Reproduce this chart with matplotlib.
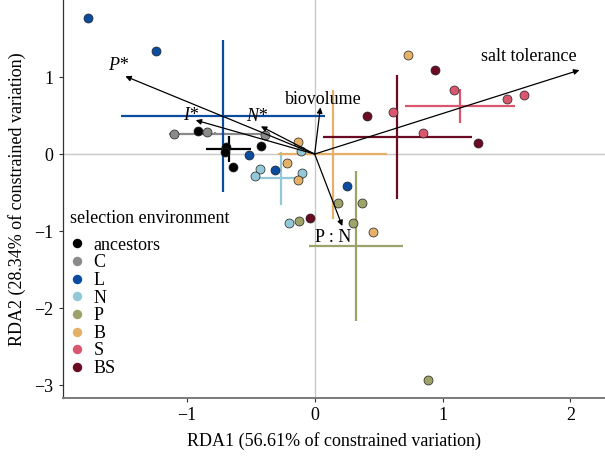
import numpy as np
import matplotlib
matplotlib.use("Agg")
import matplotlib.pyplot as plt
from matplotlib.lines import Line2D

plt.rcParams["font.family"] = ["Liberation Serif", "DejaVu Serif"]
plt.rcParams["font.size"] = 13

# site scores per selection environment (RDA1, RDA2)
groups = ["ancestors", "C", "L", "N", "P", "B", "S", "BS"]
colors = ["#000000", "#8a8a8a", "#0b4c9f", "#93c8d8", "#9da268",
          "#e5b068", "#d9566f", "#6a0b23"]

anc_x = [-0.91, -0.42, -0.69, -0.70, -0.64]
anc_y = [0.30, 0.10, 0.09, 0.03, -0.17]
c_x = [-1.10, -0.84, -0.39]
c_y = [0.26, 0.29, 0.25]
l_x = [-1.77, -1.24, -0.51, -0.31, 0.25]
l_y = [1.76, 1.34, -0.01, -0.21, -0.42]
n_x = [-0.11, -0.43, -0.47, -0.10, -0.20]
n_y = [0.04, -0.20, -0.29, -0.24, -0.89]
p_x = [0.18, 0.37, 0.30, -0.12, 0.89]
p_y = [-0.64, -0.64, -0.89, -0.87, -2.93]
b_x = [-0.13, -0.22, -0.13, 0.73, 0.46]
b_y = [0.16, -0.11, -0.34, 1.28, -1.01]
s_x = [1.09, 0.61, 0.85, 1.50, 1.64]
s_y = [0.83, 0.54, 0.28, 0.72, 0.77]
bs_x = [0.94, 0.41, 1.28, -0.04]
bs_y = [1.09, 0.50, 0.15, -0.83]

xs = [anc_x, c_x, l_x, n_x, p_x, b_x, s_x, bs_x]
ys = [anc_y, c_y, l_y, n_y, p_y, b_y, s_y, bs_y]

# biplot arrows (explanatory variables)
arrow_names = ["P*", "I*", "N*", "biovolume", "salt tolerance", "P : N"]
arrow_x = [-1.48, -0.93, -0.42, 0.045, 2.07, 0.216]
arrow_y = [1.01, 0.44, 0.36, 0.606, 1.09, -0.934]
label_x = [-1.54, -0.97, -0.45, 0.066, 1.672, 0.141]
label_y = [1.154, 0.497, 0.484, 0.713, 1.262, -1.080]
italic = [True, True, True, False, False, False]

fig = plt.figure(figsize=(6.05, 4.58), dpi=100)
ax = fig.add_axes([0.1036, 0.132, 0.8964, 0.868])

ax.axhline(0, color="#c8c8c8", lw=1, zorder=0)
ax.axvline(0, color="#c8c8c8", lw=1, zorder=0)

# mean +/- sd crosshairs
for gx, gy, col in zip(xs, ys, colors):
    gx = np.array(gx); gy = np.array(gy)
    mx, my = gx.mean(), gy.mean()
    sx, sy = gx.std(ddof=1), gy.std(ddof=1)
    ax.plot([mx - sx, mx + sx], [my, my], color=col, lw=1.6, zorder=1,
            solid_capstyle="butt")
    ax.plot([mx, mx], [my - sy, my + sy], color=col, lw=1.6, zorder=1,
            solid_capstyle="butt")

for gx, gy, col in zip(xs, ys, colors):
    ax.scatter(gx, gy, s=42, color=col, edgecolor="#222222", linewidth=0.5,
               zorder=3)

for name, ax_, ay_, lx, ly, it in zip(arrow_names, arrow_x, arrow_y,
                                      label_x, label_y, italic):
    ax.annotate("", xy=(ax_, ay_), xytext=(0, 0),
                arrowprops=dict(arrowstyle="-|>", color="black", lw=0.9,
                                mutation_scale=8, shrinkA=0, shrinkB=0),
                zorder=4)
    ax.text(lx, ly, name, ha="center", va="center", fontsize=13,
            style="italic" if it else "normal", zorder=5)

ax.set_xlim(-1.97, 2.27)
ax.set_ylim(-3.16, 2.0)
ax.set_xticks([-1, 0, 1, 2])
ax.set_yticks([-3, -2, -1, 0, 1])
ax.set_xlabel("RDA1 (56.61% of constrained variation)", labelpad=6)
ax.set_ylabel("RDA2 (28.34% of constrained variation)", labelpad=6)

for side in ["top", "right"]:
    ax.spines[side].set_visible(False)
ax.spines["left"].set_color("#333333")
ax.spines["left"].set_linewidth(0.9)
ax.spines["bottom"].set_color("#7a7a7a")
ax.spines["bottom"].set_linewidth(1.4)
ax.tick_params(length=3, width=0.8, color="#333333", labelsize=13)

handles = [Line2D([], [], marker="o", ls="none", markersize=6.8,
                  markerfacecolor=c, markeredgewidth=0) for c in colors]
leg = ax.legend(handles, groups, title="selection environment",
                loc="upper left", bbox_to_anchor=(0.0, 0.49),
                frameon=False, fontsize=13, title_fontsize=13,
                labelspacing=0.035, handletextpad=0.55, handlelength=0.75,
                borderaxespad=0.2, borderpad=0.2)
leg._legend_box.align = "left"
leg._legend_box.sep = 7

fig.savefig("out.png", dpi=100)
